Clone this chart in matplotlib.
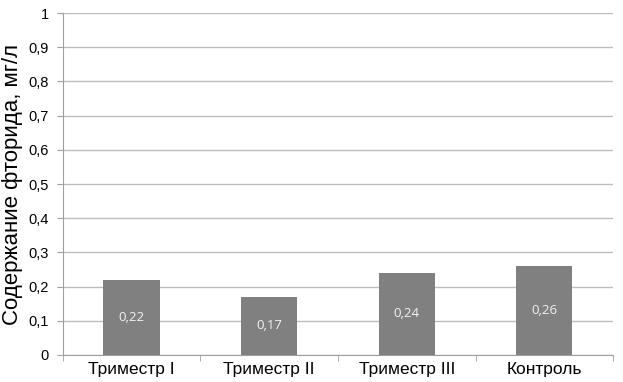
import matplotlib
matplotlib.use("Agg")
import matplotlib.pyplot as plt
import numpy as np

categories = ["Триместр I", "Триместр II", "Триместр III", "Контроль"]
values = [0.22, 0.17, 0.24, 0.26]
yticks = [0, 0.1, 0.2, 0.3, 0.4, 0.5, 0.6, 0.7, 0.8, 0.9, 1.0]

plt.rcParams['font.family'] = ['Liberation Sans', 'DejaVu Sans']

fig = plt.figure(figsize=(6.23, 3.82), dpi=100)
ax = fig.add_axes([0.101, 0.0707, 0.883, 0.895])

x = np.arange(len(categories))
bars = ax.bar(x, values, width=0.41, color='#808080', zorder=3)

for xi, v in zip(x, values):
    ax.text(xi, v / 2, f"{v:.2f}".replace('.', ','), ha='center', va='center',
            color='#f2f2f2', fontsize=9.5, family='Open Sans', zorder=4)

ax.set_xlim(-0.5, len(categories) - 0.5)
ax.set_ylim(0, 1)
ax.set_yticks(yticks)
ax.set_yticklabels(["0" if t == 0 else ("1" if t == 1 else f"{t:.1f}".replace('.', ',')) for t in yticks],
                   fontsize=10.5)
ax.yaxis.grid(True, color='#bdbdbd', linewidth=1, zorder=0)

# category labels in the middle, tick marks between categories
ax.set_xticks(x)
ax.set_xticklabels(categories, fontsize=12.5)
ax.tick_params(axis='x', length=0, pad=5)
ax.set_xticks(np.arange(-0.5, len(categories)), minor=True)
ax.tick_params(axis='x', which='minor', length=4, color='#a0a0a0')
ax.tick_params(axis='y', length=4, color='#a0a0a0', pad=6)

for s in ['top', 'right']:
    ax.spines[s].set_visible(False)
for s in ['left', 'bottom']:
    ax.spines[s].set_color('#a0a0a0')

ax.set_ylabel("Содержание фторида, мг/л", fontsize=16, labelpad=4)

fig.savefig("out.png", dpi=100)
